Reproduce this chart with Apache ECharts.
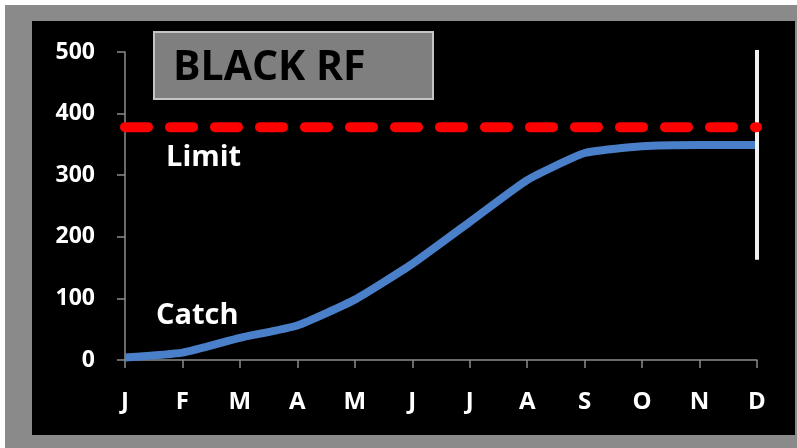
<!DOCTYPE html>
<html>
<head>
<meta charset="utf-8">
<script src="https://cdn.jsdelivr.net/npm/echarts@6/dist/echarts.min.js"></script>
<style>
html,body{margin:0;padding:0;background:#fff;}
#chart{width:797px;height:448px;}
</style>
</head>
<body>
<div id="chart"></div>
<script>
const months = ['J','F','M','A','M','J','J','A','S','O','N','D'];
const catchValues = [4, 12, 36, 56, 98, 156, 224, 292, 336, 347, 349, 349];
const limitValue = 378;
const limitValues = months.map(() => limitValue);
const errorBar = [['D', 166, 500]];
const yTicks = [0, 100, 200, 300, 400, 500];
const titleText = 'BLACK RF';

const FONT = '"Open Sans", Lato, sans-serif';
const chart = echarts.init(document.getElementById('chart'), null, {renderer: 'canvas'});

chart.setOption({
  backgroundColor: '#fff',
  animation: false,
  grid: {left: 125, right: 40, top: 52, bottom: 88},
  graphic: [
    {type: 'rect', z: -20, silent: true, shape: {x: 5, y: 5, width: 792, height: 443}, style: {fill: '#8a8a8a'}},
    {type: 'rect', z: -10, silent: true, shape: {x: 32, y: 21, width: 763, height: 414}, style: {fill: '#000'}},
    {type: 'rect', z: 10, silent: true, shape: {x: 154, y: 32, width: 279, height: 67}, style: {fill: '#7f7f7f', stroke: '#c4c4c4', lineWidth: 2}},
    {type: 'text', z: 11, silent: true, x: 173, y: 68, style: {text: titleText, fill: '#000', font: 'bold 41px ' + FONT, textVerticalAlign: 'middle'}},
    {type: 'text', z: 11, silent: true, x: 166, y: 158, style: {text: 'Limit', fill: '#fff', font: 'bold 29px ' + FONT, textVerticalAlign: 'middle'}},
    {type: 'text', z: 11, silent: true, x: 156, y: 316, style: {text: 'Catch', fill: '#fff', font: 'bold 29px ' + FONT, textVerticalAlign: 'middle'}}
  ],
  xAxis: {
    type: 'category',
    data: months,
    boundaryGap: false,
    axisLine: {lineStyle: {color: '#8c8c8c', width: 1.5}},
    axisTick: {show: true, length: 8, lineStyle: {color: '#8c8c8c', width: 1.5}},
    axisLabel: {color: '#fff', fontSize: 24, fontWeight: 'bold', fontFamily: FONT, margin: 30, interval: 0},
    splitLine: {show: false}
  },
  yAxis: {
    type: 'value',
    min: yTicks[0],
    max: yTicks[yTicks.length - 1],
    interval: 100,
    axisLine: {show: true, lineStyle: {color: '#8c8c8c', width: 1.5}},
    axisTick: {show: true, length: 8, lineStyle: {color: '#8c8c8c', width: 1.5}},
    axisLabel: {color: '#fff', fontSize: 23, fontWeight: 'bold', fontFamily: FONT, margin: 30},
    splitLine: {show: false}
  },
  series: [
    {
      name: 'Catch', type: 'line', data: catchValues, z: 2,
      smooth: 0.15, symbol: 'none',
      lineStyle: {color: '#4a7fc9', width: 8}
    },
    {
      name: 'Error', type: 'custom', z: 3,
      data: errorBar,
      renderItem: function (params, api) {
        const x = api.value(0);
        const lo = api.coord([x, api.value(1)]);
        const hi = api.coord([x, api.value(2)]);
        return {
          type: 'line',
          shape: {x1: hi[0], y1: hi[1], x2: lo[0], y2: lo[1]},
          style: {stroke: '#f2f2f2', lineWidth: 4, lineCap: 'square'}
        };
      }
    },
    {
      name: 'Limit', type: 'line', data: limitValues, z: 4,
      symbol: 'none',
      lineStyle: {color: '#ff0000', width: 10, type: [23, 22], cap: 'round'}
    }
  ]
});
</script>
</body>
</html>
